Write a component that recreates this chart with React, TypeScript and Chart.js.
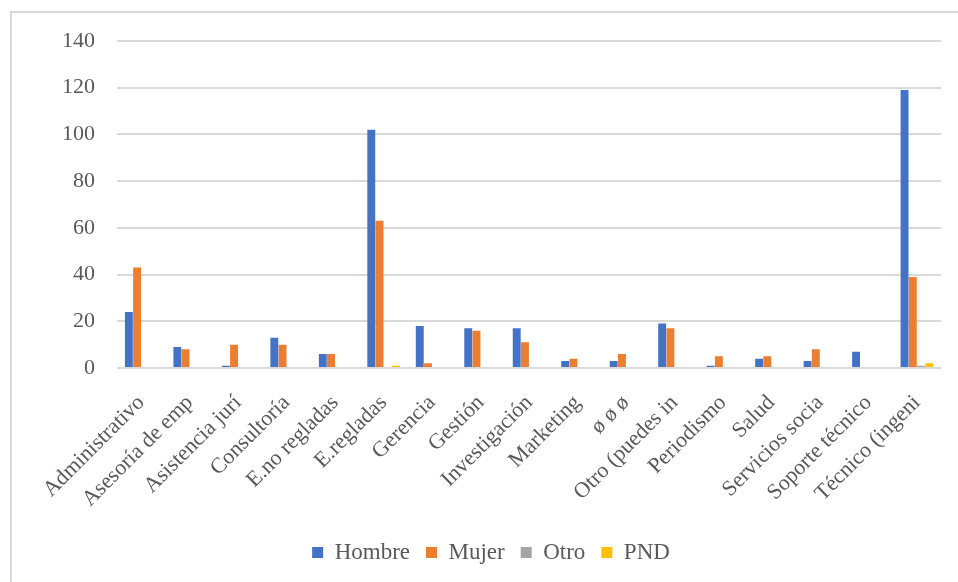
import React, { useEffect, useRef } from "react";
import { Chart, registerables } from "chart.js";

Chart.register(...registerables);

const categories = [
  "Administrativo",
  "Asesoría de emp",
  "Asistencia jurí",
  "Consultoría",
  "E.no regladas",
  "E.regladas",
  "Gerencia",
  "Gestión",
  "Investigación",
  "Marketing",
  "ø ø ø",
  "Otro (puedes in",
  "Periodismo",
  "Salud",
  "Servicios socia",
  "Soporte técnico",
  "Técnico (ingeni",
];

const hombre = [24, 9, 1, 13, 6, 102, 18, 17, 17, 3, 3, 19, 1, 4, 3, 7, 119];
const mujer = [43, 8, 10, 10, 6, 63, 2, 16, 11, 4, 6, 17, 5, 5, 8, 0, 39];
const otro = [0, 0, 0, 0, 0, 0, 0, 0, 0, 0, 0, 0, 0, 0, 0, 0, 1];
const pnd = [0, 0, 0, 0, 0, 1, 0, 0, 0, 0, 0, 0, 0, 0, 0, 0, 2];

const yTicks = [0, 20, 40, 60, 80, 100, 120, 140];

const FONT = "'Liberation Serif', 'Times New Roman', serif";
const TEXT = "#595959";

Chart.defaults.font.family = FONT;
Chart.defaults.color = TEXT;

export default function App() {
  const ref = useRef<HTMLCanvasElement>(null);

  useEffect(() => {
    if (!ref.current) return;
    const chart = new Chart(ref.current, {
      type: "bar",
      data: {
        labels: categories,
        datasets: [
          { label: "Hombre", data: hombre, backgroundColor: "#4472C4" },
          { label: "Mujer", data: mujer, backgroundColor: "#ED7D31" },
          { label: "Otro", data: otro, backgroundColor: "#A5A5A5" },
          { label: "PND", data: pnd, backgroundColor: "#FFC000" },
        ],
      },
      options: {
        responsive: false,
        animation: false,
        layout: { padding: { left: 38, top: 41, right: 14, bottom: 8 } },
        datasets: {
          bar: { categoryPercentage: 0.68, barPercentage: 0.96, borderWidth: 0 },
        },
        scales: {
          x: {
            grid: { display: false, drawTicks: false },
            border: { display: false },
            ticks: {
              autoSkip: false,
              maxRotation: 45,
              minRotation: 45,
              padding: 22,
              color: TEXT,
              font: { family: FONT, size: 22 },
            },
            afterFit: (scale: any) => {
              scale.height = 157;
            },
          },
          y: {
            min: 0,
            max: 140,
            afterBuildTicks: (scale: any) => {
              scale.ticks = yTicks.map((v) => ({ value: v }));
            },
            grid: { color: "#d9d9d9", lineWidth: 2, drawTicks: false },
            border: { display: false },
            ticks: {
              padding: 22,
              color: TEXT,
              font: { family: FONT, size: 22 },
            },
            afterFit: (scale: any) => {
              scale.width = 79;
            },
          },
        },
        plugins: {
          legend: {
            position: "bottom",
            labels: {
              boxWidth: 11,
              boxHeight: 11,
              padding: 16,
              color: TEXT,
              font: { family: FONT, size: 23 },
            },
          },
          tooltip: { enabled: false },
        },
      },
    });
    return () => chart.destroy();
  }, []);

  return (
    <div>
      <canvas
        ref={ref}
        width={958}
        height={582}
        style={{ position: "fixed", left: 0, top: 0, width: 958, height: 582 }}
      />
      <div
        style={{
          position: "fixed",
          left: 10,
          top: 11,
          width: 1000,
          height: 1000,
          borderLeft: "2px solid #d9d9d9",
          borderTop: "2px solid #d9d9d9",
          pointerEvents: "none",
        }}
      />
    </div>
  );
}
